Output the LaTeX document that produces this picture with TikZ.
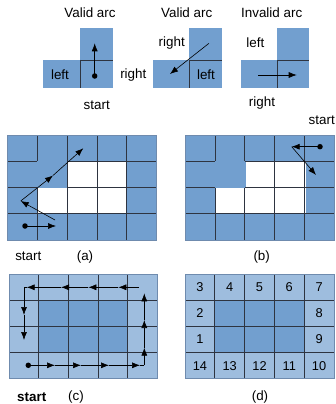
\documentclass[tikz,border=0pt]{standalone}
\usepackage{fontspec}
\setmainfont{Liberation Sans}
\usetikzlibrary{arrows.meta}
\definecolor{cellblue}{HTML}{729FCF}
\definecolor{lightblue}{HTML}{9EBDDE}
\definecolor{gridline}{HTML}{2E3440}
\definecolor{edgeline}{HTML}{6F8BAE}
\begin{document}
\begin{tikzpicture}[x=1pt,y=-1pt,
  lbl/.style={font=\fontsize{13.4}{15}\selectfont, inner sep=0pt},
  num/.style={font=\fontsize{12.8}{15}\selectfont, inner sep=0pt},
  arr/.style={draw=black, line width=0.6pt, -{Latex[length=8pt,width=6pt]}},
  plain/.style={draw=black, line width=0.6pt},
  dotmark/.style={circle, fill=black, inner sep=0pt, minimum size=5.5pt},
  gl/.style={draw=gridline, line width=0.75pt},
  edge/.style={draw=edgeline, line width=0.5pt}]
\useasboundingbox (0,0) rectangle (336,404);

% ---------- top panels ----------
% panel 1
\fill[cellblue] (43,60) rectangle (113,88);
\fill[cellblue] (80,28) rectangle (113,60);
\draw[gl] (80,60) -- (80,88);
\draw[gl] (80,60) -- (113,60);
\node[dotmark] (p1s) at (94.7,76) {};
\coordinate (p1e) at (94.7,43.3);
\draw[arr] (p1s.center) -- (p1e);
\node[lbl] (t1) at (90,13) {Valid arc};
\node[lbl] (l1) at (60,75) {left};
\node[lbl] (s1) at (96.7,105) {start};

% panel 2
\fill[cellblue] (153,60) rectangle (222,88);
\fill[cellblue] (189,28) rectangle (222,60);
\draw[gl] (189,60) -- (189,88);
\draw[gl] (189,60) -- (222,60);
\coordinate (p2s) at (209,43.3);
\coordinate (p2e) at (170,74);
\draw[arr] (p2s) -- (p2e);
\node[lbl] (t2) at (186.7,13) {Valid arc};
\node[lbl] (r2a) at (133.3,75) {right};
\node[lbl] (r2b) at (171.7,42.7) {right};
\node[lbl] (l2) at (206,75) {left};

% panel 3
\fill[cellblue] (241,60) rectangle (309,88);
\fill[cellblue] (277,28) rectangle (309,60);
\draw[gl] (277,60) -- (277,88);
\draw[gl] (277,60) -- (309,60);
\coordinate (p3s) at (258.3,75);
\coordinate (p3e) at (296.7,75);
\draw[arr] (p3s) -- (p3e);
\node[lbl] (t3) at (271.7,13) {Invalid arc};
\node[lbl] (l3) at (255.3,42.7) {left};
\node[lbl] (r3) at (262,102.7) {right};
\node[lbl] (s3) at (321.7,120) {start};

% ---------- panel (a) ----------
\fill[cellblue] (7.5,135) rectangle (156.5,239.8);
\fill[white] (67.1,161.2) rectangle (126.7,187.4);
\fill[white] (37.3,187.4) rectangle (126.7,213.6);
\foreach \i in {1,...,4} \draw[gl] (7.5+29.8*\i,135) -- (7.5+29.8*\i,239.8);
\foreach \j in {1,2,3} \draw[gl] (7.5,135+26.2*\j) -- (156.5,135+26.2*\j);
\draw[edge] (7.5,135) rectangle (156.5,239.8);
\fill[cellblue] (36.9,160.8) rectangle (67.4,187.7);
\node[dotmark] (a0) at (25,226) {};
\coordinate (a1) at (56,226);
\coordinate (a2) at (55,220);
\coordinate (a3) at (20.7,201);
\coordinate (a4) at (53,175.5);
\coordinate (a5) at (83.3,148.3);
\draw[arr] (a0.center) -- (a1);
\draw[arr] (a2) -- (a3);
\draw[arr] (a3) -- (a4);
\draw[arr] (a4) -- (a5);
\node[lbl] (sa) at (28.3,256.7) {start};
\node[lbl] (la) at (85,256.7) {(a)};

% ---------- panel (b) ----------
\fill[cellblue] (185,135) rectangle (334.5,239.8);
\fill[white] (245.7,161.2) rectangle (305.7,187.4);
\fill[white] (215.7,187.4) rectangle (305.7,213.6);
\foreach \i in {1,...,4} \draw[gl] (185+29.9*\i,135) -- (185+29.9*\i,239.8);
\foreach \j in {1,2,3} \draw[gl] (185,135+26.2*\j) -- (334.5,135+26.2*\j);
\draw[edge] (185,135) rectangle (334.5,239.8);
\fill[cellblue] (214.5,160.8) rectangle (245.1,187.7);
\node[dotmark] (b0) at (320,146.7) {};
\coordinate (b1) at (291.7,146.7);
\coordinate (b2) at (316,175);
\draw[arr] (b0.center) -- (b1);
\draw[arr] (b1) -- (b2);
\node[lbl] (lb) at (261.7,256.7) {(b)};

% ---------- panel (c) ----------
\fill[lightblue] (9,274.3) rectangle (157.5,378.7);
\fill[cellblue] (38.7,300.4) rectangle (127.8,352.6);
\foreach \i in {1,...,4} \draw[gl] (9+29.7*\i,274.3) -- (9+29.7*\i,378.7);
\foreach \j in {1,2,3} \draw[gl] (9,274.3+26.1*\j) -- (157.5,274.3+26.1*\j);
\draw[edge] (9,274.3) rectangle (157.5,378.7);
\node[dotmark] (c0) at (28.3,365.3) {};
\coordinate (c1) at (55,365.3);
\coordinate (c2) at (81,365.3);
\coordinate (c3) at (109,365.3);
\coordinate (c4) at (140,365.3);
\coordinate (c5) at (144.3,365.3);
\coordinate (c6) at (144.3,347.7);
\coordinate (c7) at (144.3,320);
\coordinate (c8) at (144.3,293.3);
\coordinate (c9) at (139,287.3);
\coordinate (c10) at (118.3,287.3);
\coordinate (c11) at (88.3,287.3);
\coordinate (c12) at (61,287.3);
\coordinate (c13) at (26.7,287.3);
\coordinate (c14) at (24,287.3);
\coordinate (c15) at (24,315);
\coordinate (c16) at (24,340);
\draw[arr] (c0.center) -- (c1);
\draw[arr] (c1) -- (c2);
\draw[arr] (c2) -- (c3);
\draw[arr] (c3) -- (c4);
\draw[plain] (c4) -- (c5);
\draw[arr] (c5) -- (c6);
\draw[arr] (c6) -- (c7);
\draw[arr] (c7) -- (c8);
\draw[arr] (c9) -- (c10);
\draw[arr] (c10) -- (c11);
\draw[arr] (c11) -- (c12);
\draw[arr] (c12) -- (c13);
\draw[plain] (c13) -- (c14);
\draw[arr] (c14) -- (c15);
\draw[arr] (c15) -- (c16);
\node[lbl,font=\fontsize{13.4}{15}\selectfont\bfseries] (sc) at (31.7,396.7) {start};
\node[lbl] (lc) at (76,396.7) {(c)};

% ---------- panel (d) ----------
\fill[lightblue] (185,274.3) rectangle (334,378.7);
\fill[cellblue] (214.8,300.4) rectangle (304.2,352.6);
\foreach \i in {1,...,4} \draw[gl] (185+29.8*\i,274.3) -- (185+29.8*\i,378.7);
\foreach \j in {1,2,3} \draw[gl] (185,274.3+26.1*\j) -- (334,274.3+26.1*\j);
\draw[edge] (185,274.3) rectangle (334,378.7);
\foreach \n/\c/\r in {3/0/0,4/1/0,5/2/0,6/3/0,7/4/0,2/0/1,8/4/1,1/0/2,9/4/2,14/0/3,13/1/3,12/2/3,11/3/3,10/4/3}
  \node[num] (d\n) at (185+14.9+29.8*\c,274.3+13.05+26.1*\r) {\n};
\node[lbl] (ld) at (260,396.7) {(d)};
\end{tikzpicture}
\end{document}
